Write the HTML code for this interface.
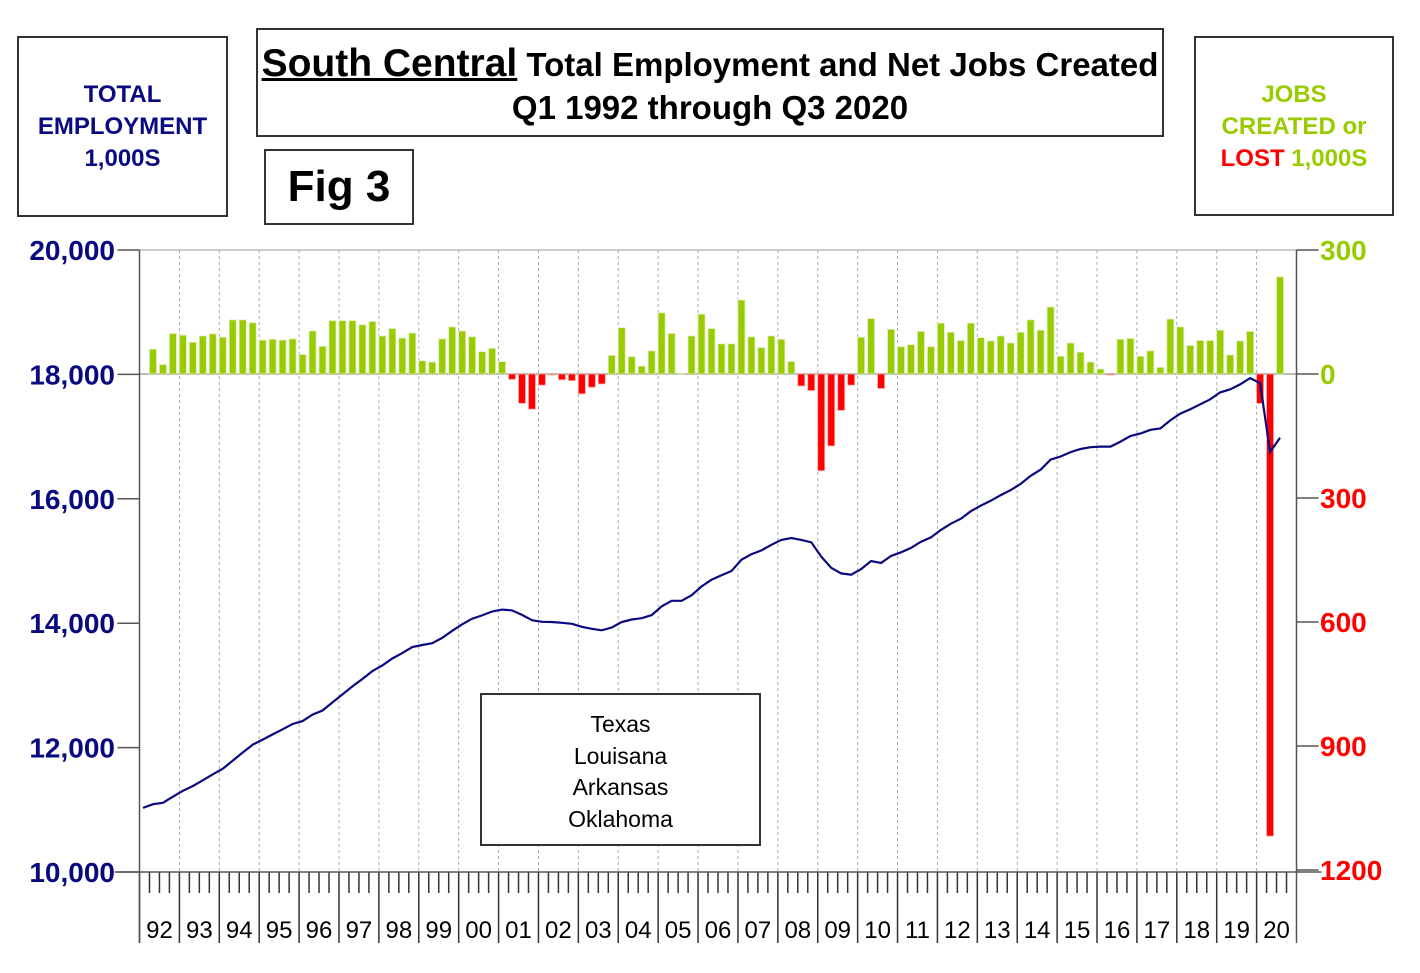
<!DOCTYPE html>
<html><head><meta charset="utf-8"><style>
body{margin:0;background:#fff;width:1420px;height:973px;overflow:hidden;font-family:"Liberation Sans",Arial,sans-serif}
.box{position:absolute;border:2px solid #333;box-sizing:border-box;background:#fff;text-align:center;font-weight:bold}
</style></head><body>
<div class="box" style="left:17px;top:36px;width:211px;height:181px;color:#0a0a80;font-size:24px;line-height:32px;padding-top:41px">TOTAL<br>EMPLOYMENT<br>1,000S</div>
<div class="box" style="left:256px;top:28px;width:908px;height:109px;font-size:33px;line-height:43px;padding-top:12px;white-space:nowrap"><span style="font-size:39px;text-decoration:underline">South Central</span> Total Employment and Net Jobs Created<br>Q1 1992 through Q3 2020</div>
<div class="box" style="left:264px;top:149px;width:150px;height:76px;font-size:44px;line-height:72px">Fig 3</div>
<div class="box" style="left:1194px;top:36px;width:200px;height:180px;color:#99cc00;font-size:24px;line-height:32px;padding-top:41px">JOBS<br>CREATED or<br><span style="color:#ff0000">LOST</span> 1,000S</div>
<svg id="chart" width="1420" height="973" style="position:absolute;left:0;top:0">
<g id="grid"></g><g id="bars"></g><g id="line"></g><g id="axes"></g>
</svg>
<div class="box" style="left:480px;top:693px;width:281px;height:153px;font-weight:normal;font-size:23px;line-height:31.5px;padding-top:14px">Texas<br>Louisana<br>Arkansas<br>Oklahoma</div>
<script>
const years=["92","93","94","95","96","97","98","99","00","01","02","03","04","05","06","07","08","09","10","11","12","13","14","15","16","17","18","19","20"];
const leftTicks=[10000,12000,14000,16000,18000,20000];
const rightTicks=[300,0,-300,-600,-900,-1200];
const rightTickLabels=["300","0","300","600","900","1200"];
// net jobs, Q2 1992 .. Q3 2020 (thousands)
const netJobs=[60,23,98,
94,77,92,97, 89,131,131,124, 82,84,82,85, 47,104,67,129, 129,129,119,127, 92,110,87,99, 32,29,85,114, 104,90,54,62,
30,-13,-71,-85, -27,-2,-14,-16, -48,-32,-24,45, 112,42,19,56, 148,98,2,92, 145,110,73,73, 179,90,64,92, 84,30,-29,-40,
-234,-174,-88,-27, 89,134,-35,108, 66,71,103,66, 123,101,81,123, 88,80,92,75, 101,131,106,162, 43,75,53,29, 12,-1,84,86,
43,56,16,133, 114,69,81,81, 106,46,80,103, -71,-1118,235];
// total employment, Q1 1992 .. Q3 2020 (thousands)
const employment=[11030,11090,11113,11211, 11305,11382,11474,11571, 11660,11791,11922,12046, 12128,12212,12294,12379,
12426,12530,12597,12726, 12855,12984,13103,13230, 13322,13432,13519,13618, 13650,13679,13764,13878,
13982,14072,14126,14188, 14218,14205,14134,14049, 14022,14020,14006,13990, 13942,13910,13886,13931,
14020,14060,14080,14130, 14270,14360,14360,14450, 14590,14700,14770,14840, 15020,15110,15170,15260,
15340,15370,15340,15300, 15070,14890,14800,14780, 14870,15000,14970,15080, 15140,15210,15310,15380,
15500,15600,15680,15800, 15890,15970,16060,16140, 16240,16370,16470,16630, 16680,16750,16800,16830,
16840,16840,16920,17010, 17050,17110,17130,17260, 17370,17440,17520,17600, 17710,17760,17840,17940,
17860,16750,16980];
const NS="http://www.w3.org/2000/svg";
const X0=139.5,X1=1296.5,Y0=250,Y1=872,QW=(X1-X0)/116;
const yL=v=>Y1-(v-10000)/10000*(Y1-Y0);
const yR=v=>374-v*(124/300);
const xQ=i=>X0+QW*(i+0.5)-1.5;
function mk(t,a,p){const e=document.createElementNS(NS,t);for(const k in a)e.setAttribute(k,a[k]);p.appendChild(e);return e;}
const grid=document.getElementById('grid'),bars=document.getElementById('bars'),line=document.getElementById('line'),axes=document.getElementById('axes');
const YW=QW*4;
years.forEach((y,k)=>{
  const x=X0+YW*k;
  if(k>0){const g=mk('line',{x1:x,x2:x,y1:Y0,y2:Y1,stroke:'#aaa','stroke-dasharray':'3,3'},grid);
  
  }
  const t=mk('line',{x1:x,x2:x,y1:Y1,y2:943,stroke:'#333','stroke-width':1.5},axes);
  
  
  for(let q=1;q<4;q++){const m=mk('line',{x1:x+QW*q,x2:x+QW*q,y1:Y1,y2:893,stroke:'#333','stroke-width':1.5},axes);
  
  }
  const l=mk('text',{x:x+YW/2,y:938,'text-anchor':'middle','font-size':24,fill:'#000'},axes);l.textContent=y;
  
  
});
mk('line',{x1:X0,x2:X1,y1:Y0,y2:Y0,stroke:'#999'},grid);
mk('line',{x1:X0,x2:X1,y1:374,y2:374,stroke:'#bbb','stroke-width':2},grid);
netJobs.forEach((v,j)=>{
  const i=j+1,x=xQ(i),y=yR(Math.max(v,0)),h=Math.max(Math.abs(yR(v)-yR(0)),1);
  const r=mk('rect',{x:x-3.5,y:y,width:7,height:h,fill:v<0?'#ff0000':'#99cc00',stroke:v<0?'#ffaaaa':'#ddeebb','stroke-width':0.8},bars);
  
  
});
const pts=employment.map((v,i)=>xQ(i).toFixed(1)+','+yL(v).toFixed(1)).join(' ');
const pl=mk('polyline',{points:pts,fill:'none',stroke:'#0a0a80','stroke-width':2.2},line);


mk('line',{x1:X0,x2:X0,y1:Y0,y2:943,stroke:'#555','stroke-width':1.5},axes);
mk('line',{x1:X1,x2:X1,y1:Y0,y2:943,stroke:'#555','stroke-width':1.5},axes);
mk('line',{x1:X0-25,x2:X1+25,y1:Y1,y2:Y1,stroke:'#555','stroke-width':1.5},axes);
leftTicks.forEach(v=>{
  const y=yL(v);
  const tk=mk('line',{x1:X0-22,x2:X0,y1:y,y2:y,stroke:'#555','stroke-width':1.5},axes);
  
  
  const t=mk('text',{x:115,y:y+10,'text-anchor':'end','font-size':28,'font-weight':'bold',fill:'#0a0a80'},axes);
  t.textContent=v.toLocaleString('en-US');
  
  
});
rightTicks.forEach((v,k)=>{
  const y=yR(v);
  const tk=mk('line',{x1:X1,x2:X1+22,y1:y,y2:y,stroke:'#555','stroke-width':1.5},axes);
  
  
  const t=mk('text',{x:1320,y:y+10,'font-size':28,'font-weight':'bold',fill:v>=0?'#99cc00':'#ff0000'},axes);
  t.textContent=rightTickLabels[k];
  
  
});
</script>
</body></html>
